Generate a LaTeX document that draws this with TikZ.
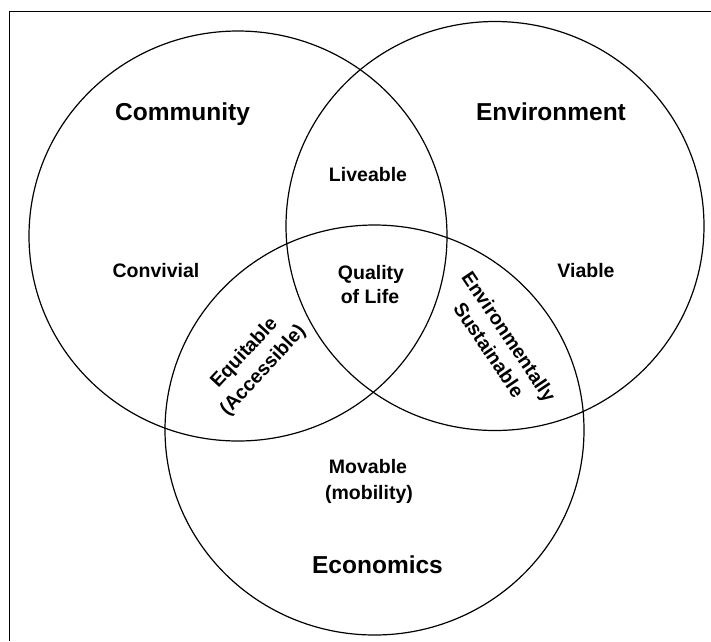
\documentclass[tikz,border=0pt]{standalone}
\usepackage{fontspec}
\setmainfont{Liberation Sans}
\begin{document}
\begin{tikzpicture}[x=1pt,y=-1pt,
  circ/.style={draw=black,line width=1.2pt},
  frame/.style={draw=black,line width=1.6pt},
  title/.style={font=\fontsize{24.5}{29}\selectfont\bfseries,inner sep=0pt},
  lab/.style={font=\fontsize{19.5}{24}\selectfont\bfseries,inner sep=0pt,align=center}]
\useasboundingbox (0,0) rectangle (711,641);
\fill[white] (0,0) rectangle (711,641);
% frame
\coordinate (fbl) at (9.5,641);
\coordinate (ftl) at (9.5,11.5);
\coordinate (ftr) at (711,11.5);
\draw[frame] (fbl) -- (ftl) -- (ftr);
% circles
\draw[circ] (238,236) ellipse [x radius=209, y radius=205];
\draw[circ] (495,226) ellipse [x radius=209, y radius=204.5];
\draw[circ] (374.5,430) ellipse [x radius=209.5, y radius=205];
% titles
\node[title,anchor=base] (community) at (182.5,120.8) {Community};
\node[title,anchor=base] (environment) at (551,120.3) {Environment};
\node[title,anchor=base] (economics) at (377.5,573.3) {Economics};
% labels
\node[lab,anchor=base] (liveable) at (368,181) {Liveable};
\node[lab,anchor=base] (convivial) at (156,277.5) {Convivial};
\node[lab,anchor=base] (viable) at (586,277.5) {Viable};
\node[lab,anchor=base] (quality) at (371,279.3) {Quality};
\node[lab,anchor=base] (oflife) at (370,303.3) {of Life};
\node[lab,anchor=base] (movable) at (368,473.3) {Movable};
\node[lab,anchor=base] (mobility) at (369,499.5) {(mobility)};
\node[lab,font=\fontsize{19.5}{25.5}\selectfont\bfseries,rotate=47] (equitable) at (254,362) {Equitable\\(Accessible)};
\node[lab,rotate=-56] (envsust) at (499,343) {Environmentally\\Sustainable};
\end{tikzpicture}
\end{document}
